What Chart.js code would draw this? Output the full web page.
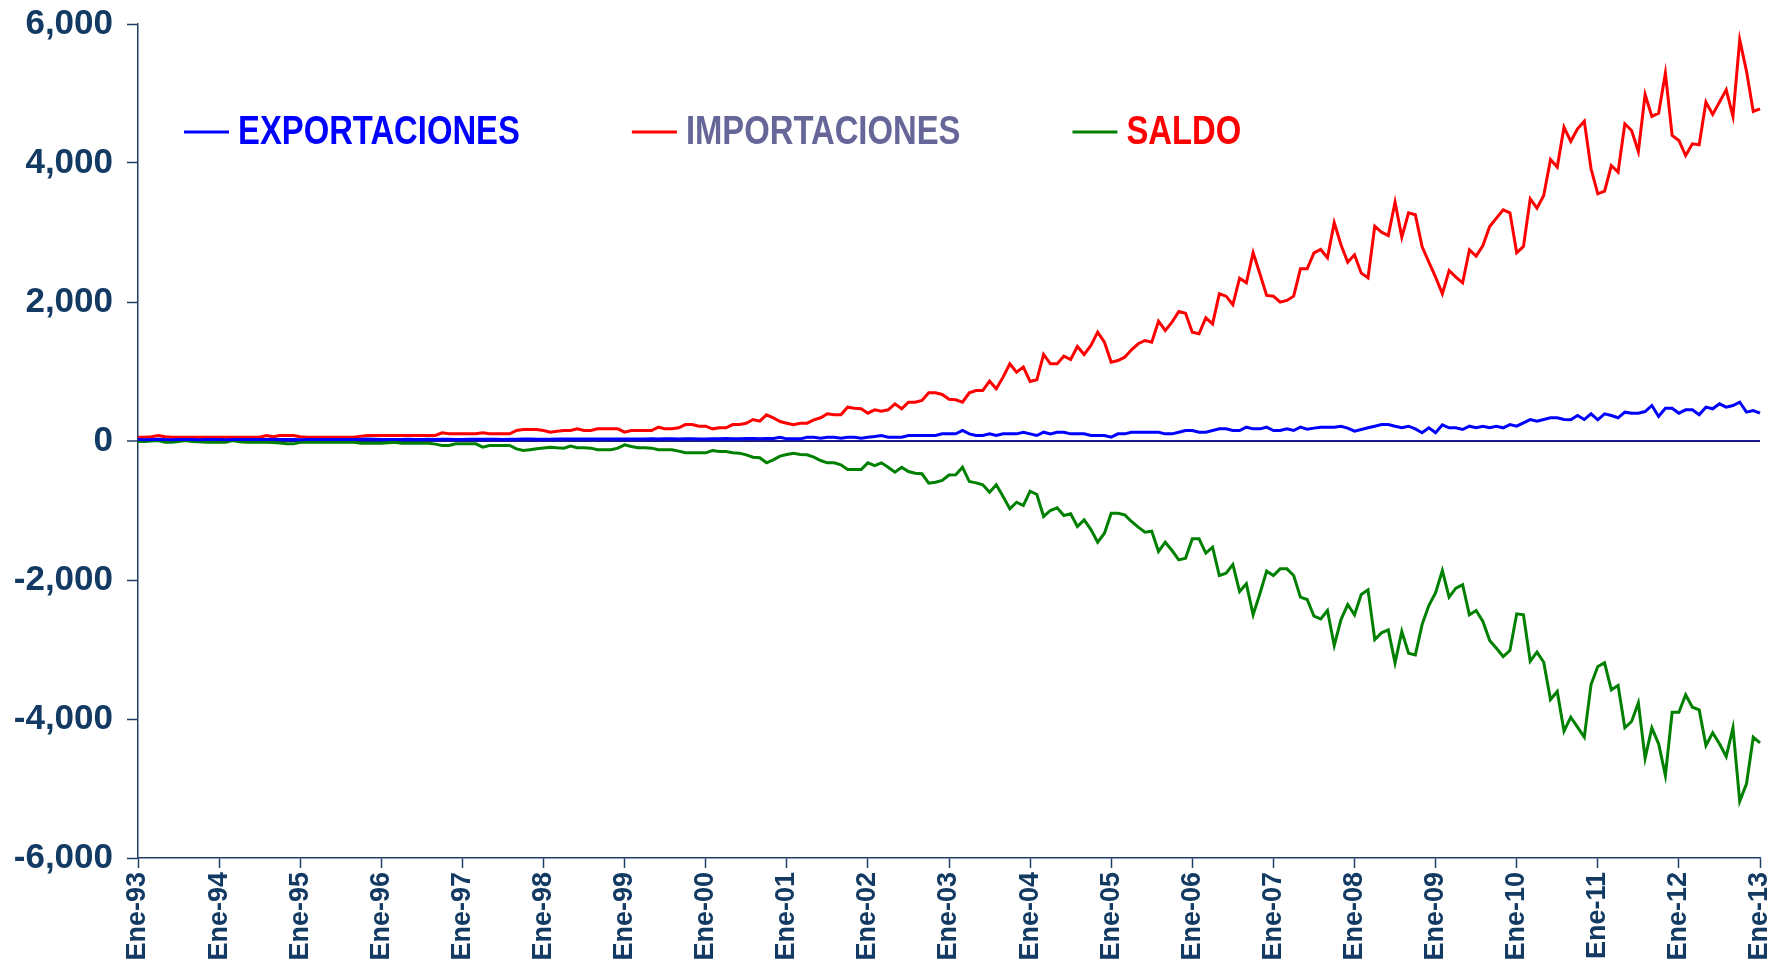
<!DOCTYPE html>
<html lang="es">
<head>
<meta charset="utf-8">
<title>Exportaciones, importaciones y saldo</title>
<script src="https://cdn.jsdelivr.net/npm/chart.js@4.4.1/dist/chart.umd.min.js"></script>
<style>
  html, body { margin: 0; padding: 0; background: #ffffff; }
  #grafico { display: block; }
</style>
</head>
<body>
<canvas id="grafico" width="1771" height="961"></canvas>
<script>
// Eje X: meses de Ene-93 a Ene-13
const meses = ["Ene", "Feb", "Mar", "Abr", "May", "Jun", "Jul", "Ago", "Sep", "Oct", "Nov", "Dic"];
const anios = ["93", "94", "95", "96", "97", "98", "99", "00", "01", "02",
               "03", "04", "05", "06", "07", "08", "09", "10", "11", "12"];
const ultimoMes = "Ene-13";

// Eje Y
const ticksY = [-6000, -4000, -2000, 0, 2000, 4000, 6000];

// Series mensuales (una fila por año)
const exportaciones = [
  20, 18, 22, 25, 20, 18, 20, 22, 20, 18, 20, 22,          // 93
  20, 18, 22, 20, 22, 20, 20, 22, 25, 20, 22, 20,          // 94
  18, 20, 20, 22, 20, 20, 22, 20, 22, 25, 30, 25,          // 95
  22, 20, 22, 22, 25, 22, 22, 25, 22, 25, 25, 22,          // 96
  22, 25, 25, 25, 25, 25, 22, 25, 25, 28, 28, 25,          // 97
  25, 25, 28, 28, 28, 30, 28, 28, 30, 30, 30, 28,          // 98
  28, 30, 30, 30, 32, 30, 32, 32, 30, 32, 32, 30,          // 99
  30, 32, 32, 35, 32, 32, 35, 35, 32, 35, 35, 55,          // 00
  31, 31, 31, 55, 55, 41, 55, 55, 41, 55, 55, 41,          // 01
  55, 65, 79, 55, 55, 55, 79, 79, 79, 79, 79, 103,         // 02
  103, 103, 151, 103, 79, 79, 103, 79, 103, 103, 103, 127, // 03
  103, 79, 127, 103, 127, 127, 103, 103, 103, 79, 79, 79,  // 04
  55, 103, 103, 127, 127, 127, 127, 127, 103, 103, 127, 151, // 05
  151, 127, 127, 151, 175, 175, 151, 151, 199, 175, 175, 199, // 06
  151, 151, 175, 151, 199, 170, 185, 199, 199, 199, 213, 185, // 07
  141, 165, 190, 213, 237, 237, 213, 190, 213, 175, 118, 190, // 08
  118, 233, 190, 190, 165, 213, 190, 213, 190, 213, 190, 237, // 09
  213, 262, 309, 285, 309, 334, 334, 309, 305, 367, 309, 391, // 10
  305, 391, 367, 334, 415, 400, 400, 424, 511, 353, 472, 472, // 11
  400, 449, 449, 377, 487, 463, 535, 487, 511, 559, 415, 439, // 12
  400                                                         // Ene-13
];

const importaciones = [
  55, 55, 60, 80, 60, 55, 55, 55, 55, 55, 55, 55,
  55, 55, 55, 55, 55, 55, 55, 80, 60, 80, 80, 80,
  60, 55, 55, 55, 55, 55, 55, 55, 55, 70, 79, 79,
  79, 79, 79, 79, 79, 79, 79, 79, 79, 118, 103, 103,
  103, 103, 103, 118, 103, 103, 103, 103, 151, 165, 165, 165,
  151, 127, 141, 151, 151, 175, 151, 151, 175, 175, 175, 175,
  127, 151, 151, 151, 151, 199, 175, 175, 190, 237, 237, 213,
  213, 175, 190, 190, 237, 237, 256, 309, 285, 377, 334, 281,
  256, 233, 256, 256, 305, 334, 391, 377, 377, 486, 472, 463,
  400, 449, 429, 449, 535, 463, 558, 558, 583, 694, 694, 669,
  600, 593, 559, 693, 727, 727, 861, 751, 919, 1111, 991, 1063,
  856, 881, 1245, 1111, 1111, 1221, 1173, 1360, 1245, 1374, 1566, 1422,
  1134, 1158, 1206, 1312, 1399, 1446, 1422, 1724, 1590, 1710, 1864, 1839,
  1566, 1543, 1773, 1686, 2118, 2084, 1960, 2343, 2276, 2708, 2406, 2094,
  2084, 1997, 2022, 2084, 2477, 2477, 2708, 2756, 2636, 3140, 2823, 2573,
  2679, 2415, 2348, 3091, 3005, 2957, 3437, 2933, 3283, 3255, 2799, 2573,
  2357, 2118, 2453, 2357, 2276, 2751, 2660, 2813, 3087, 3207, 3326, 3283,
  2708, 2799, 3485, 3350, 3533, 4051, 3941, 4516, 4310, 4492, 4602, 3917,
  3557, 3595, 3964, 3869, 4564, 4468, 4166, 4986, 4670, 4717, 5293, 4396,
  4324, 4108, 4276, 4262, 4876, 4698, 4876, 5053, 4670, 5773, 5322, 4741,
  4780
];

const saldo = [
  -7, -7, 0, 7, -17, -17, -7, 7, -7, -12, -17, -17,
  -17, -17, 7, -10, -17, -17, -17, -17, -20, -30, -41, -41,
  -17, -17, -17, -17, -17, -17, -17, -17, -17, -31, -31, -31,
  -31, -25, -17, -31, -31, -31, -31, -31, -45, -65, -65, -41,
  -41, -41, -41, -89, -65, -65, -65, -65, -113, -137, -125, -113,
  -100, -89, -98, -103, -74, -98, -98, -103, -127, -127, -127, -103,
  -55, -79, -98, -98, -103, -127, -127, -127, -146, -170, -170, -170,
  -170, -137, -151, -151, -170, -175, -199, -233, -242, -314, -271, -218,
  -194, -175, -194, -199, -233, -281, -314, -314, -343, -410, -410, -410,
  -314, -353, -314, -377, -449, -377, -439, -463, -472, -607, -593, -568,
  -490, -487, -377, -583, -602, -631, -737, -631, -799, -976, -881, -928,
  -722, -770, -1086, -1000, -962, -1072, -1048, -1230, -1134, -1274, -1456, -1327,
  -1039, -1039, -1062, -1158, -1240, -1312, -1298, -1590, -1456, -1576, -1710, -1686,
  -1407, -1407, -1614, -1528, -1935, -1902, -1777, -2166, -2055, -2501, -2199, -1873,
  -1935, -1839, -1839, -1935, -2247, -2281, -2521, -2559, -2439, -2943, -2569, -2353,
  -2501, -2209, -2141, -2856, -2760, -2717, -3192, -2741, -3054, -3077, -2641, -2367,
  -2184, -1864, -2247, -2118, -2069, -2501, -2439, -2597, -2871, -2982, -3101, -3015,
  -2487, -2501, -3169, -3039, -3183, -3720, -3605, -4176, -3974, -4118, -4262, -3504,
  -3245, -3192, -3580, -3518, -4127, -4036, -3767, -4564, -4127, -4357, -4813, -3903,
  -3903, -3652, -3831, -3868, -4382, -4199, -4357, -4540, -4127, -5183, -4933, -4262,
  -4343
];

// Etiquetas "Ene-93", "Feb-93", ...
const etiquetas = [];
anios.forEach(a => meses.forEach(m => etiquetas.push(m + "-" + a)));
etiquetas.push(ultimoMes);

const fuente = "'Liberation Sans', Arial, Helvetica, sans-serif";
const colorTexto = "#123a63";
const colorEje = "#1f3f66";
const colorCero = "#1a1a8c";
const coloresLeyenda = ["#0000ff", "#666699", "#ff0000"];

Chart.defaults.font.family = fuente;

// Leyenda dibujada dentro del área del gráfico (texto algo estrecho, como el original)
const leyendaInterior = {
  id: "leyendaInterior",
  afterDatasetsDraw(chart) {
    const { ctx, chartArea } = chart;
    const y = chartArea.top + 108;
    const estrecho = 0.82;
    let x = chartArea.left + 46;
    ctx.save();
    ctx.font = "bold 40px " + fuente;
    ctx.textBaseline = "middle";
    ctx.textAlign = "left";
    chart.data.datasets.forEach((ds, i) => {
      ctx.strokeStyle = ds.borderColor;
      ctx.lineWidth = 3;
      ctx.beginPath();
      ctx.moveTo(x, y);
      ctx.lineTo(x + 45, y);
      ctx.stroke();
      x += 54;
      ctx.save();
      ctx.translate(x, y + 1);
      ctx.scale(estrecho, 1);
      ctx.fillStyle = coloresLeyenda[i];
      ctx.fillText(ds.label, 0, 0);
      ctx.restore();
      x += ctx.measureText(ds.label).width * estrecho + 112;
    });
    ctx.restore();
  }
};

new Chart(document.getElementById("grafico").getContext("2d"), {
  type: "line",
  data: {
    labels: etiquetas,
    datasets: [
      { label: "EXPORTACIONES", data: exportaciones, borderColor: "#0000ff", backgroundColor: "#0000ff" },
      { label: "IMPORTACIONES", data: importaciones, borderColor: "#ff0000", backgroundColor: "#ff0000" },
      { label: "SALDO", data: saldo, borderColor: "#008000", backgroundColor: "#008000" }
    ]
  },
  options: {
    responsive: false,
    animation: false,
    layout: { padding: { left: 0, right: 11, top: 24, bottom: 0 } },
    elements: {
      line: { borderWidth: 3, tension: 0 },
      point: { radius: 0, hoverRadius: 0 }
    },
    plugins: {
      legend: { display: false },
      tooltip: { enabled: false }
    },
    scales: {
      x: {
        offset: false,
        grid: {
          drawOnChartArea: false,
          drawTicks: true,
          tickLength: 10,
          tickWidth: 1.5,
          tickColor: (c) => (c.index % 12 === 0 ? colorEje : "rgba(0,0,0,0)")
        },
        border: { display: true, color: colorEje, width: 1.5 },
        ticks: {
          autoSkip: false,
          minRotation: 90,
          maxRotation: 90,
          padding: 4,
          color: colorTexto,
          font: { size: 27, weight: "bold" },
          callback: function (v, i) { return i % 12 === 0 ? this.getLabelForValue(v) : ""; }
        },
        afterFit(scale) {
          scale.height = 103;
          scale.paddingLeft = 0;
          scale.paddingRight = 0;
        }
      },
      y: {
        min: -6000,
        max: 6000,
        afterBuildTicks(scale) { scale.ticks = ticksY.map(v => ({ value: v })); },
        grid: {
          drawOnChartArea: true,
          drawTicks: true,
          tickLength: 11,
          tickWidth: 1.5,
          tickColor: colorEje,
          color: (c) => (c.tick && c.tick.value === 0 ? colorCero : "rgba(0,0,0,0)"),
          lineWidth: (c) => (c.tick && c.tick.value === 0 ? 2 : 1)
        },
        border: { display: true, color: colorEje, width: 1.5 },
        ticks: {
          padding: 14,
          color: colorTexto,
          font: { size: 35, weight: "bold" },
          callback: (v) => v.toLocaleString("en-US")
        },
        afterFit(scale) {
          scale.width = 138;
          scale.paddingTop = 0;
          scale.paddingBottom = 0;
        }
      }
    }
  },
  plugins: [leyendaInterior]
});
</script>
</body>
</html>
